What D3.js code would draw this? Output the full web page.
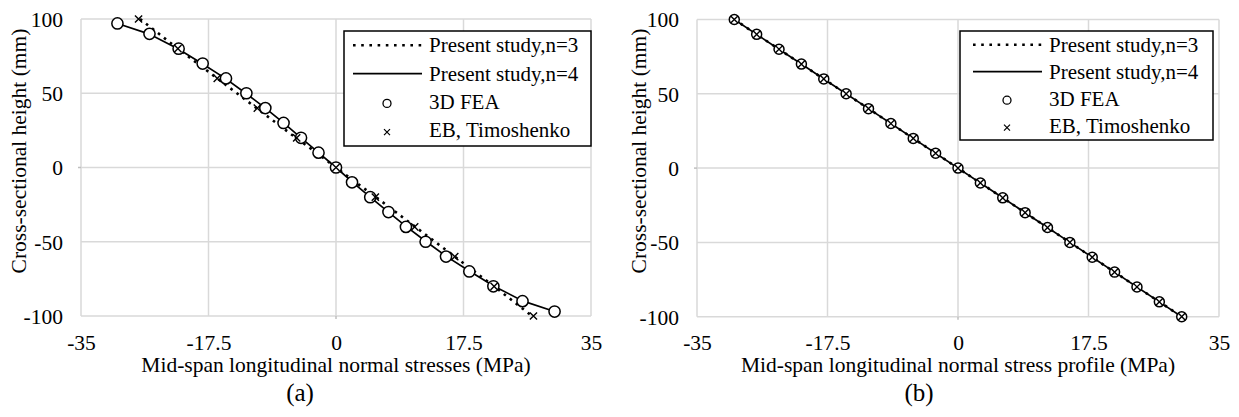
<!DOCTYPE html>
<html>
<head>
<meta charset="utf-8">
<script src="https://cdn.jsdelivr.net/npm/d3@7"></script>
<style>
  html, body { margin: 0; padding: 0; background: #fff; }
  svg { display: block; }
  text { font-family: "Liberation Serif", "Times New Roman", Times, serif; fill: #000; }
</style>
</head>
<body>
<svg id="fig" width="1239" height="417"></svg>
<script>
// ---- axis ticks ----
const xTicks = [-35, -17.5, 0, 17.5, 35];
const yTicks = [-100, -50, 0, 50, 100];

// ---- panel (a): mid-span longitudinal normal stresses ----
const heightsN3A = [100, 90, 80, 70, 60, 50, 40, 30, 20, 10, 0, -10, -20, -30, -40, -50, -60, -70, -80, -90, -100];
const stressN3A  = [-26.9, -24.3, -21.7, -19.0, -16.3, -13.6, -10.9, -8.2, -5.5, -2.7, 0, 2.7, 5.5, 8.2, 10.9, 13.6, 16.3, 19.0, 21.7, 24.3, 26.9];
const heightsN4A = [97, 90, 80, 70, 60, 50, 40, 30, 20, 10, 0, -10, -20, -30, -40, -50, -60, -70, -80, -90, -97];
const stressN4A  = [-30.0, -25.7, -21.7, -18.4, -15.2, -12.4, -9.7, -7.2, -4.8, -2.4, 0, 2.3, 4.7, 7.2, 9.7, 12.4, 15.2, 18.4, 21.7, 25.7, 30.0];
const heightsFeaA = [97, 90, 80, 70, 60, 50, 40, 30, 20, 10, 0, -10, -20, -30, -40, -50, -60, -70, -80, -90, -97];
const stressFeaA  = [-30.0, -25.6, -21.6, -18.3, -15.1, -12.3, -9.7, -7.2, -4.8, -2.4, 0, 2.2, 4.7, 7.2, 9.6, 12.3, 15.1, 18.3, 21.6, 25.6, 30.0];
const heightsEbA = [100, 80, 60, 40, 20, 0, -20, -40, -60, -80, -100];
const stressEbA  = [-27.1, -21.7, -16.3, -10.8, -5.4, 0, 5.4, 10.8, 16.3, 21.7, 27.1];

// ---- panel (b): mid-span longitudinal normal stress profile ----
const heightsB = [100, 90, 80, 70, 60, 50, 40, 30, 20, 10, 0, -10, -20, -30, -40, -50, -60, -70, -80, -90, -100];
const stressN3B  = [-30, -27, -24, -21, -18, -15, -12, -9, -6, -3, 0, 3, 6, 9, 12, 15, 18, 21, 24, 27, 30];
const stressN4B  = [-30, -27, -24, -21, -18, -15, -12, -9, -6, -3, 0, 3, 6, 9, 12, 15, 18, 21, 24, 27, 30];
const stressFeaB = [-30, -27, -24, -21, -18, -15, -12, -9, -6, -3, 0, 3, 6, 9, 12, 15, 18, 21, 24, 27, 30];
const stressEbB  = [-30, -27, -24, -21, -18, -15, -12, -9, -6, -3, 0, 3, 6, 9, 12, 15, 18, 21, 24, 27, 30];

const legendLabels = ["Present study,n=3", "Present study,n=4", "3D FEA", "EB, Timoshenko"];
const yTitle = "Cross-sectional height (mm)";

const zip = (xs, ys) => xs.map((v, i) => ({ x: v, y: ys[i] }));

const panels = [
  {
    plot: { left: 81, right: 591, top: 19, bottom: 316 },
    xTitle: "Mid-span longitudinal normal stresses (MPa)",
    caption: "(a)", captionX: 300,
    yTitleX: 25.5,
    n3: zip(stressN3A, heightsN3A),
    n4: zip(stressN4A, heightsN4A),
    fea: zip(stressFeaA, heightsFeaA),
    eb: zip(stressEbA, heightsEbA),
    r: 5.6,
    legend: { left: 344, right: 591, top: 31, bottom: 146, base: 52.3, step: 28.3, lineL: 353, lineR: 422, mark: 387, text: 429 }
  },
  {
    plot: { left: 697, right: 1219, top: 19.5, bottom: 316.7 },
    xTitle: "Mid-span longitudinal normal stress profile (MPa)",
    caption: "(b)", captionX: 919,
    yTitleX: 645.5,
    n3: zip(stressN3B, heightsB),
    n4: zip(stressN4B, heightsB),
    fea: zip(stressFeaB, heightsB),
    eb: zip(stressEbB, heightsB),
    r: 5.0,
    legend: { left: 960, right: 1213, top: 31, bottom: 140, base: 51.7, step: 27, lineL: 973, lineR: 1042, mark: 1007, text: 1049 }
  }
];

const svg = d3.select("#fig");
const GRID = "#d9d9d9";
const FS = "21.5px";
const FONT = '"Liberation Serif", "Times New Roman", Times, serif';

function cross(sel, s, w) {
  sel.append("path")
    .attr("d", `M${-s},${-s}L${s},${s}M${-s},${s}L${s},${-s}`)
    .attr("stroke", "#000").attr("stroke-width", w).attr("fill", "none");
}

panels.forEach(p => {
  const P = p.plot;
  const x = d3.scaleLinear().domain([-35, 35]).range([P.left, P.right]);
  const y = d3.scaleLinear().domain([-100, 100]).range([P.bottom, P.top]);
  const g = svg.append("g");

  // grid
  g.append("g").selectAll("line").data(xTicks).join("line")
    .attr("x1", d => x(d)).attr("x2", d => x(d))
    .attr("y1", P.top).attr("y2", P.bottom)
    .attr("stroke", GRID).attr("stroke-width", 1.5);
  g.append("g").selectAll("line").data(yTicks).join("line")
    .attr("y1", d => y(d)).attr("y2", d => y(d))
    .attr("x1", P.left).attr("x2", P.right)
    .attr("stroke", GRID).attr("stroke-width", 1.5);
  // axis stubs at the zero lines
  g.append("line").attr("x1", P.left - 3).attr("x2", P.left).attr("y1", y(0)).attr("y2", y(0))
    .attr("stroke", "#bfbfbf").attr("stroke-width", 1.5);
  g.append("line").attr("x1", x(0)).attr("x2", x(0)).attr("y1", P.bottom).attr("y2", P.bottom + 3)
    .attr("stroke", "#bfbfbf").attr("stroke-width", 1.5);

  // tick labels
  const xa = g.append("g").attr("transform", `translate(0,${P.bottom})`)
    .call(d3.axisBottom(x).tickValues(xTicks).tickSize(0).tickFormat(d => String(d)));
  xa.attr("font-family", FONT);
  xa.select(".domain").remove();
  xa.selectAll("text").attr("y", 33.5).attr("dy", null)
    .style("font-size", FS).style("font-family", FONT);

  const ya = g.append("g").attr("transform", `translate(${P.left},0)`)
    .call(d3.axisLeft(y).tickValues(yTicks).tickSize(0).tickFormat(d => String(d)));
  ya.attr("font-family", FONT);
  ya.select(".domain").remove();
  ya.selectAll("text").attr("x", -18).attr("dy", "0.34em")
    .style("font-size", FS).style("font-family", FONT);

  // titles
  g.append("text").attr("x", (P.left + P.right) / 2).attr("y", 372)
    .attr("text-anchor", "middle").style("font-size", FS).text(p.xTitle);
  g.append("text").attr("transform", `translate(${p.yTitleX},151) rotate(-90)`)
    .attr("text-anchor", "middle").style("font-size", FS).text(yTitle);
  g.append("text").attr("x", p.captionX).attr("y", 401)
    .attr("text-anchor", "middle").style("font-size", "25px").text(p.caption);

  // series
  const line = d3.line().x(d => x(d.x)).y(d => y(d.y));
  g.append("path").datum(p.n3).attr("d", line)
    .attr("fill", "none").attr("stroke", "#000").attr("stroke-width", 2.6)
    .attr("stroke-dasharray", "2.6 5");
  g.append("path").datum(p.n4).attr("d", line)
    .attr("fill", "none").attr("stroke", "#000").attr("stroke-width", 1.7);
  g.append("g").selectAll("circle").data(p.fea).join("circle")
    .attr("cx", d => x(d.x)).attr("cy", d => y(d.y)).attr("r", p.r)
    .attr("fill", "#fff").attr("stroke", "#000").attr("stroke-width", 1.5);
  g.append("g").selectAll("g").data(p.eb).join("g")
    .attr("transform", d => `translate(${x(d.x)},${y(d.y)})`)
    .each(function () { cross(d3.select(this), 3.6, 1.4); });

  // legend
  const L = p.legend;
  g.append("rect").attr("x", L.left).attr("y", L.top)
    .attr("width", L.right - L.left).attr("height", L.bottom - L.top)
    .attr("fill", "#fff").attr("stroke", "#000").attr("stroke-width", 1.5);
  legendLabels.forEach((lab, i) => {
    const b = L.base + L.step * i;
    if (i === 0) {
      g.append("line").attr("x1", L.lineL).attr("x2", L.lineR).attr("y1", b - 7).attr("y2", b - 7)
        .attr("stroke", "#000").attr("stroke-width", 2.6).attr("stroke-dasharray", "2.6 5.6");
    } else if (i === 1) {
      g.append("line").attr("x1", L.lineL).attr("x2", L.lineR).attr("y1", b - 7).attr("y2", b - 7)
        .attr("stroke", "#000").attr("stroke-width", 1.7);
    } else if (i === 2) {
      g.append("circle").attr("cx", L.mark).attr("cy", b - 5.5).attr("r", 4)
        .attr("fill", "#fff").attr("stroke", "#000").attr("stroke-width", 1.3);
    } else {
      cross(g.append("g").attr("transform", `translate(${L.mark},${b - 5})`), 3, 1.2);
    }
    g.append("text").attr("x", L.text).attr("y", b).style("font-size", "21px").text(lab);
  });
});
</script>
</body>
</html>
